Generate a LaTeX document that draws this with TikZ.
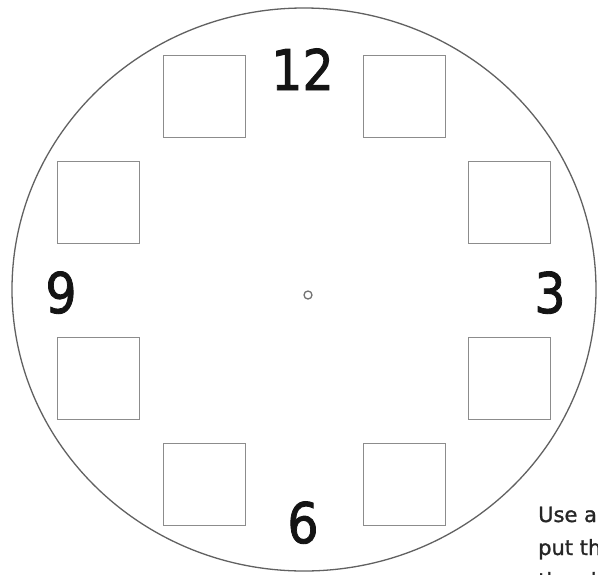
\documentclass[tikz,border=0pt]{standalone}
\usepackage{fontspec}
\setmainfont{DejaVu Sans}
\newfontfamily\heavyfont{DejaVu Sans}[FakeBold=1.6]
\newfontfamily\notefont{DejaVu Sans}[FakeBold=1.2]
\usetikzlibrary{shapes.geometric}
\begin{document}
\begin{tikzpicture}[x=1pt,y=-1pt,
  hourbox/.style={draw=black!45, line width=1.8pt, minimum width=82pt, minimum height=82pt, inner sep=0pt},
  numeral/.style={anchor=base, inner sep=0pt, font=\heavyfont\fontsize{56}{60}\selectfont, text=black!92, xscale=0.88},
  note/.style={anchor=base west, inner sep=0pt, font=\notefont\fontsize{21}{24}\selectfont, text=black!85}]
\useasboundingbox (0,0) rectangle (598,574);
\clip (0,0) rectangle (598,574);
\fill[white] (0,0) rectangle (598,574);
\node[draw=black!62, line width=1.3pt, ellipse, minimum width=584pt, minimum height=563pt, inner sep=0pt] (face) at (304,289.5) {};
\node[draw=black!55, line width=1.3pt, circle, minimum size=8pt, inner sep=0pt] (pivot) at (308,295) {};
\node[hourbox] (b11) at (204.5,96.5) {};
\node[hourbox] (b1) at (404.5,96.5) {};
\node[hourbox] (b10) at (98.5,202.5) {};
\node[hourbox] (b2) at (509.5,202.5) {};
\node[hourbox] (b8) at (98.5,378.5) {};
\node[hourbox] (b4) at (509.5,378.5) {};
\node[hourbox] (b7) at (204.5,484.5) {};
\node[hourbox] (b5) at (404.5,484.5) {};
\node[numeral] (n12) at (302.5,90) {12};
\node[numeral] (n9) at (61,313) {9};
\node[numeral] (n3) at (550,313) {3};
\node[numeral] (n6) at (303,543) {6};
\node[note] (t1) at (538,522) {Use a};
\node[note] (t2) at (538,555) {put th};
\node[note] (t3) at (538,588) {the cl};
\end{tikzpicture}
\end{document}
